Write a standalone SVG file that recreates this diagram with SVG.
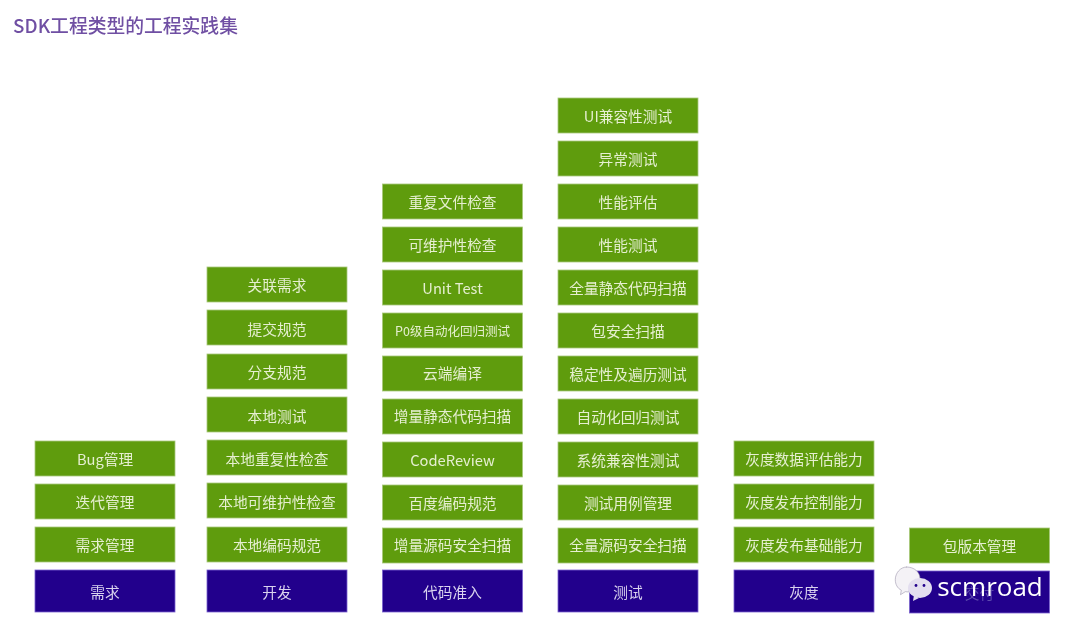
<svg xmlns="http://www.w3.org/2000/svg" width="1080" height="631" viewBox="0 0 1080 631">
<defs><filter id="soft" x="-5%" y="-5%" width="110%" height="110%"><feGaussianBlur stdDeviation="0.5"/></filter></defs>
<style>
text{font-family:"Noto Sans CJK SC","Liberation Sans",sans-serif;text-anchor:middle;dominant-baseline:central}
.g rect{fill:#5f9c10;stroke:#a9c97a;stroke-width:.8}
.b rect{fill:#22008c;stroke:#7a62cf;stroke-width:.8}
.g text{fill:#e6efd0;font-size:14.7px;transform:translateY(-1px)}
.b text{fill:#d9d2ee;font-size:14.7px;transform:translateY(-1px)}
</style>
<rect width="1080" height="631" fill="#fff"/>
<text x="125.500" y="24" style="font-size:18.800px;font-weight:500;fill:#6f4fa3" filter="url(#soft)">SDK工程类型的工程实践集</text>
<g id="connectors"></g>
<g filter="url(#soft)">
<g id="col1">
<g class="g" id="n1-1"><rect x="35" y="441" width="140" height="35"/><text x="105" y="459">Bug管理</text></g>
<g class="g" id="n1-2"><rect x="35" y="484" width="140" height="35"/><text x="105" y="502">迭代管理</text></g>
<g class="g" id="n1-3"><rect x="35" y="527" width="140" height="35"/><text x="105" y="545">需求管理</text></g>
<g class="b" id="n1-4"><rect x="35" y="570" width="140" height="42"/><text x="105" y="592">需求</text></g>
</g>
<g id="col2">
<g class="g" id="n2-1"><rect x="207" y="267" width="140" height="35"/><text x="277" y="285">关联需求</text></g>
<g class="g" id="n2-2"><rect x="207" y="310" width="140" height="35"/><text x="277" y="329">提交规范</text></g>
<g class="g" id="n2-3"><rect x="207" y="354" width="140" height="35"/><text x="277" y="372">分支规范</text></g>
<g class="g" id="n2-4"><rect x="207" y="397" width="140" height="35"/><text x="277" y="416">本地测试</text></g>
<g class="g" id="n2-5"><rect x="207" y="440" width="140" height="35"/><text x="277" y="459">本地重复性检查</text></g>
<g class="g" id="n2-6"><rect x="207" y="483" width="140" height="35"/><text x="277" y="502">本地可维护性检查</text></g>
<g class="g" id="n2-7"><rect x="207" y="527" width="140" height="35"/><text x="277" y="545">本地编码规范</text></g>
<g class="b" id="n2-8"><rect x="207" y="570" width="140" height="42"/><text x="277" y="592">开发</text></g>
</g>
<g id="col3">
<g class="g" id="n3-1"><rect x="382.500" y="184" width="140" height="35"/><text x="452.500" y="202">重复文件检查</text></g>
<g class="g" id="n3-2"><rect x="382.500" y="227" width="140" height="35"/><text x="452.500" y="245">可维护性检查</text></g>
<g class="g" id="n3-3"><rect x="382.500" y="270" width="140" height="35"/><text x="452.500" y="288">Unit Test</text></g>
<g class="g" id="n3-4"><rect x="382.500" y="313" width="140" height="35"/><text x="452.500" y="331" style="font-size:12.500px">P0级自动化回归测试</text></g>
<g class="g" id="n3-5"><rect x="382.500" y="356" width="140" height="35"/><text x="452.500" y="373">云端编译</text></g>
<g class="g" id="n3-6"><rect x="382.500" y="399" width="140" height="35"/><text x="452.500" y="416">增量静态代码扫描</text></g>
<g class="g" id="n3-7"><rect x="382.500" y="442" width="140" height="35"/><text x="452.500" y="460">CodeReview</text></g>
<g class="g" id="n3-8"><rect x="382.500" y="485" width="140" height="35"/><text x="452.500" y="503">百度编码规范</text></g>
<g class="g" id="n3-9"><rect x="382.500" y="528" width="140" height="35"/><text x="452.500" y="545">增量源码安全扫描</text></g>
<g class="b" id="n3-10"><rect x="382.500" y="570" width="140" height="42"/><text x="452.500" y="592">代码准入</text></g>
</g>
<g id="col4">
<g class="g" id="n4-1"><rect x="558" y="98" width="140" height="35"/><text x="628" y="116">UI兼容性测试</text></g>
<g class="g" id="n4-2"><rect x="558" y="141" width="140" height="35"/><text x="628" y="159">异常测试</text></g>
<g class="g" id="n4-3"><rect x="558" y="184" width="140" height="35"/><text x="628" y="202">性能评估</text></g>
<g class="g" id="n4-4"><rect x="558" y="227" width="140" height="35"/><text x="628" y="245">性能测试</text></g>
<g class="g" id="n4-5"><rect x="558" y="270" width="140" height="35"/><text x="628" y="288">全量静态代码扫描</text></g>
<g class="g" id="n4-6"><rect x="558" y="313" width="140" height="35"/><text x="628" y="331">包安全扫描</text></g>
<g class="g" id="n4-7"><rect x="558" y="356" width="140" height="35"/><text x="628" y="374">稳定性及遍历测试</text></g>
<g class="g" id="n4-8"><rect x="558" y="399" width="140" height="35"/><text x="628" y="417">自动化回归测试</text></g>
<g class="g" id="n4-9"><rect x="558" y="442" width="140" height="35"/><text x="628" y="460">系统兼容性测试</text></g>
<g class="g" id="n4-10"><rect x="558" y="485" width="140" height="35"/><text x="628" y="503">测试用例管理</text></g>
<g class="g" id="n4-11"><rect x="558" y="528" width="140" height="35"/><text x="628" y="545">全量源码安全扫描</text></g>
<g class="b" id="n4-12"><rect x="558" y="570" width="140" height="42"/><text x="628" y="592">测试</text></g>
</g>
<g id="col5">
<g class="g" id="n5-1"><rect x="734" y="441" width="140" height="35"/><text x="804" y="459">灰度数据评估能力</text></g>
<g class="g" id="n5-2"><rect x="734" y="484" width="140" height="35"/><text x="804" y="502">灰度发布控制能力</text></g>
<g class="g" id="n5-3"><rect x="734" y="527" width="140" height="35"/><text x="804" y="545">灰度发布基础能力</text></g>
<g class="b" id="n5-4"><rect x="734" y="570" width="140" height="42"/><text x="804" y="592">灰度</text></g>
</g>
<g id="col6">
<g class="g" id="n6-1"><rect x="909.500" y="528" width="140" height="35"/><text x="979.500" y="546">包版本管理</text></g>
<g class="b" id="n6-2"><rect x="909.500" y="571" width="140" height="42"/><text x="979.500" y="593" style="fill:#5d48ad">交付</text></g>
</g>
</g>
<g id="watermark">
<path d="M906.500 567c7.500 0 13.500 5 13.500 11.500c0 2-.6 4-1.700 5.500c-3.500-.8-9 2-9.500 8l-3.500-.3l-4.800 3l.8-4.500c-4-2-6-6-6-10.500c0-6.700 5-12.700 11.700-12.700z" fill="#f4f2f6" stroke="#9d97ad" stroke-width=".6"/>
<ellipse cx="920" cy="588" rx="12" ry="10" fill="#e3deef"/>
<path d="M914 595l-1 6l6-3z" fill="#e3deef"/>
<circle cx="916" cy="585.500" r="1.400" fill="#22008c"/><circle cx="924" cy="585.500" r="1.400" fill="#22008c"/>
<text x="990" y="586" style="font-family:'Open Sans','Liberation Sans',sans-serif;font-size:26px;fill:#fff">scmroad</text>
</g>
</svg>
